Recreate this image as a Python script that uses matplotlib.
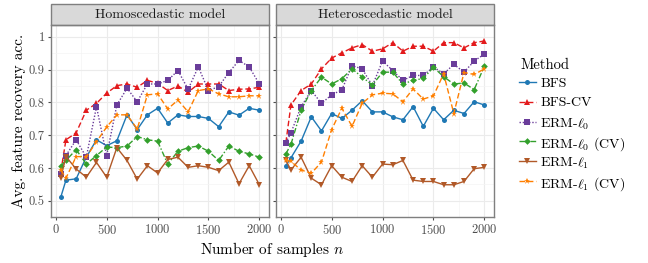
import matplotlib
matplotlib.use("Agg")
import matplotlib.pyplot as plt
from matplotlib.lines import Line2D
from matplotlib.patches import Rectangle
from matplotlib.ticker import MultipleLocator

plt.rcParams["font.family"] = "cmr10"
plt.rcParams["mathtext.fontset"] = "cm"
plt.rcParams["axes.unicode_minus"] = False
plt.rcParams["axes.formatter.use_mathtext"] = True

n_samples = [50, 100, 200, 300, 400, 500, 600, 700, 800, 900, 1000,
             1100, 1200, 1300, 1400, 1500, 1600, 1700, 1800, 1900, 2000]

panel_titles = ["Homoscedastic model", "Heteroscedastic model"]
method_names = ["BFS", "BFS-CV", r"ERM-$\ell_0$", r"ERM-$\ell_0$ (CV)",
                r"ERM-$\ell_1$", r"ERM-$\ell_1$ (CV)"]

# homoscedastic panel
homo_bfs = [0.512, 0.563, 0.567, 0.633, 0.686, 0.668, 0.683, 0.762, 0.717, 0.762, 0.782,
            0.737, 0.762, 0.757, 0.757, 0.751, 0.726, 0.771, 0.761, 0.782, 0.776]
homo_bfs_cv = [0.590, 0.686, 0.707, 0.776, 0.797, 0.828, 0.851, 0.856, 0.846, 0.867, 0.858,
               0.836, 0.850, 0.831, 0.856, 0.856, 0.856, 0.836, 0.840, 0.841, 0.846]
homo_l0 = [0.582, 0.638, 0.686, 0.633, 0.787, 0.638, 0.792, 0.843, 0.802, 0.856, 0.856,
           0.867, 0.897, 0.840, 0.908, 0.836, 0.848, 0.891, 0.928, 0.908, 0.856]
homo_l0_cv = [0.607, 0.623, 0.656, 0.612, 0.638, 0.664, 0.662, 0.667, 0.696, 0.686, 0.682,
              0.612, 0.651, 0.662, 0.667, 0.651, 0.623, 0.667, 0.651, 0.643, 0.633]
homo_l1 = [0.571, 0.635, 0.597, 0.572, 0.617, 0.572, 0.662, 0.623, 0.566, 0.607, 0.585,
           0.626, 0.633, 0.602, 0.607, 0.602, 0.592, 0.618, 0.552, 0.607, 0.549]
homo_l1_cv = [0.594, 0.569, 0.635, 0.634, 0.680, 0.725, 0.762, 0.762, 0.719, 0.823, 0.826,
              0.780, 0.807, 0.771, 0.836, 0.841, 0.826, 0.817, 0.817, 0.820, 0.820]

# heteroscedastic panel
het_bfs = [0.607, 0.631, 0.682, 0.756, 0.713, 0.766, 0.751, 0.776, 0.805, 0.771, 0.771,
           0.756, 0.747, 0.787, 0.727, 0.782, 0.747, 0.776, 0.766, 0.802, 0.792]
het_bfs_cv = [0.677, 0.792, 0.836, 0.856, 0.902, 0.935, 0.951, 0.966, 0.976, 0.956, 0.963,
              0.982, 0.956, 0.971, 0.971, 0.956, 0.982, 0.982, 0.966, 0.982, 0.987]
het_l0 = [0.677, 0.707, 0.787, 0.836, 0.797, 0.823, 0.838, 0.912, 0.902, 0.851, 0.926,
          0.897, 0.867, 0.882, 0.882, 0.908, 0.887, 0.916, 0.892, 0.926, 0.947]
het_l0_cv = [0.643, 0.672, 0.776, 0.836, 0.877, 0.856, 0.872, 0.902, 0.877, 0.853, 0.892,
             0.892, 0.856, 0.867, 0.873, 0.907, 0.878, 0.856, 0.859, 0.839, 0.910]
het_l1 = [0.623, 0.594, 0.633, 0.569, 0.549, 0.607, 0.572, 0.559, 0.607, 0.572, 0.612,
          0.610, 0.623, 0.563, 0.559, 0.559, 0.549, 0.549, 0.559, 0.598, 0.602]
het_l1_cv = [0.623, 0.620, 0.594, 0.584, 0.618, 0.717, 0.782, 0.727, 0.797, 0.823, 0.828,
             0.826, 0.802, 0.841, 0.810, 0.820, 0.887, 0.766, 0.891, 0.885, 0.902]

panel_data = [
    [homo_bfs, homo_bfs_cv, homo_l0, homo_l0_cv, homo_l1, homo_l1_cv],
    [het_bfs, het_bfs_cv, het_l0, het_l0_cv, het_l1, het_l1_cv],
]

colors = ["#1F78B4", "#E31A1C", "#6A3D9A", "#33A02C", "#B15928", "#FF7F00"]
markers = ["o", "^", "s", "D", "v", "*"]
msizes = [3.6, 3.8, 3.8, 3.4, 3.8, 4.8]
styles = ["-", (0, (4, 2)), (0, (1, 1.3)), (0, (4, 1.5, 1, 1.5)), "-", (0, (4, 2))]

border = "#7F7F7F"

fig = plt.figure(figsize=(6.48, 2.63), dpi=100)
axes = [fig.add_axes([0.0786, 0.174, 0.337, 0.730]),
        fig.add_axes([0.4258, 0.174, 0.337, 0.730])]

for k, ax in enumerate(axes):
    for i in range(len(method_names)):
        ax.plot(n_samples, panel_data[k][i], color=colors[i], linestyle=styles[i],
                lw=1.0, marker=markers[i], ms=msizes[i], mew=0)

    ax.set_xlim(-47.5, 2097.5)
    ax.set_ylim(0.45, 1.035)
    ax.xaxis.set_major_locator(MultipleLocator(500))
    ax.xaxis.set_minor_locator(MultipleLocator(250))
    ax.yaxis.set_major_locator(MultipleLocator(0.1))
    ax.yaxis.set_minor_locator(MultipleLocator(0.05))
    ax.set_yticks([0.5, 0.6, 0.7, 0.8, 0.9, 1.0])
    ax.set_yticklabels(["0.5", "0.6", "0.7", "0.8", "0.9", "1"])
    ax.grid(which="major", color="#EBEBEB", lw=0.8)
    ax.grid(which="minor", color="#F4F4F4", lw=0.5)
    ax.set_axisbelow(True)
    for s in ax.spines.values():
        s.set_color(border)
        s.set_linewidth(1.0)
    ax.tick_params(which="major", length=2.5, width=0.8, color="#4D4D4D",
                   labelsize=9, labelcolor="#4D4D4D", pad=2)
    ax.tick_params(which="minor", length=0)
    if k == 1:
        ax.tick_params(labelleft=False)

    # facet strip
    ax.add_patch(Rectangle((0, 1.0), 1, 0.112, transform=ax.transAxes,
                           facecolor="#D9D9D9", edgecolor=border, lw=1.0, clip_on=False))
    ax.text(0.5, 1.056, panel_titles[k], transform=ax.transAxes, ha="center", va="center",
            fontsize=10, color="#1A1A1A")

axes[0].set_ylabel("Avg. feature recovery acc.", fontsize=11, labelpad=2)
fig.text(0.42, 0.05, r"Number of samples $n$", ha="center", va="center", fontsize=11)

# legend, laid out by hand so rows are evenly spaced like ggplot's
fig.text(0.803, 0.757, "Method", ha="left", va="center_baseline", fontsize=10.5)
for i, name in enumerate(method_names):
    y = 0.688 - i * 0.0753
    fig.add_artist(Line2D([0.801, 0.827], [y, y], transform=fig.transFigure,
                          color=colors[i], linestyle=styles[i], lw=1.0))
    fig.add_artist(Line2D([0.814], [y], transform=fig.transFigure, color=colors[i],
                          marker=markers[i], ms=msizes[i], mew=0, linestyle="none"))
    fig.text(0.834, y, name, ha="left", va="center_baseline", fontsize=10)

fig.savefig("out.png", dpi=100)
